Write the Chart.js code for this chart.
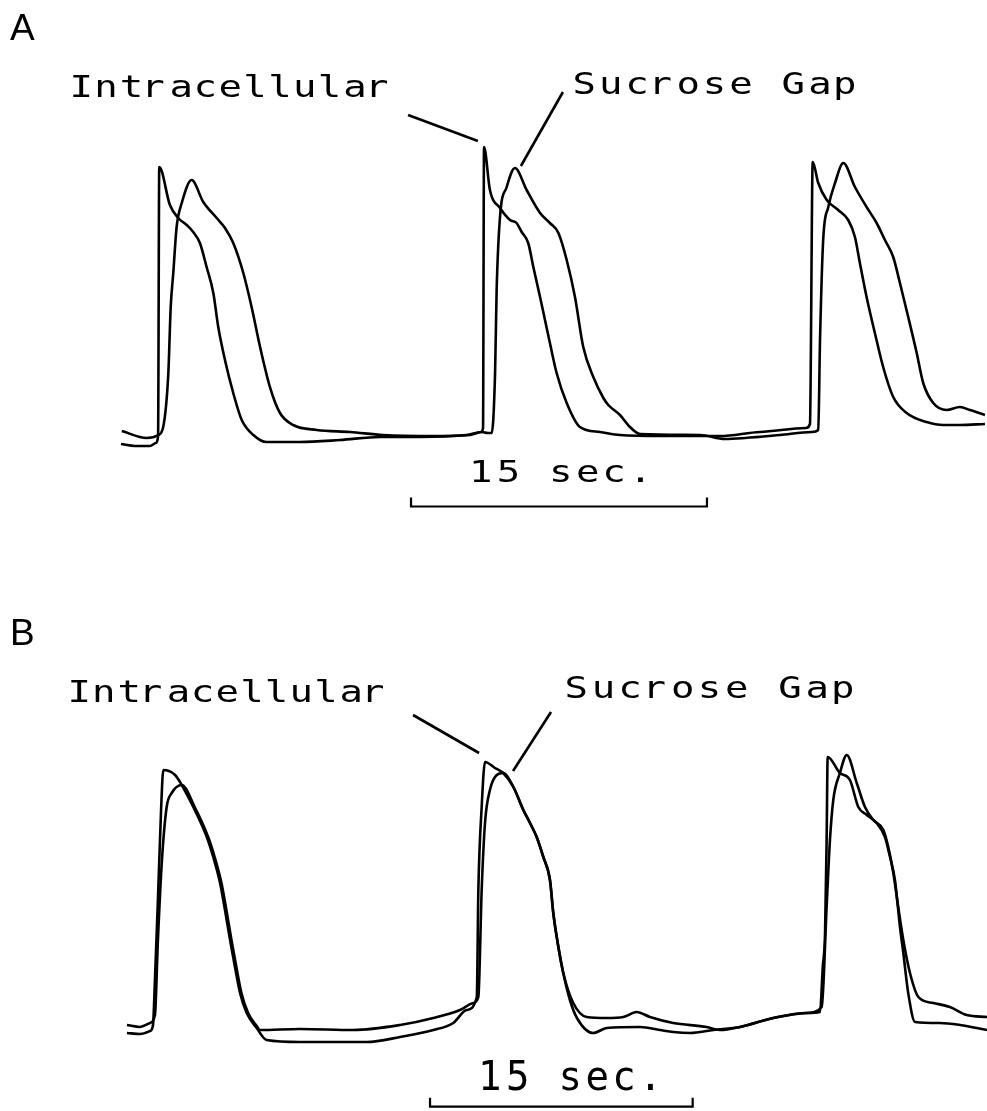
<!DOCTYPE html>
<html>
<head>
  <title>Intracellular and Sucrose Gap Recordings</title>
  <script src="https://cdn.jsdelivr.net/npm/chart.js"></script>
  <style>
    body { margin: 0; background: #fff; }
    canvas { position: absolute; left: 0; }
  </style>
</head>
<body>
  <canvas id="panelA" width="987" height="555" style="top:0px"></canvas>
  <canvas id="panelB" width="987" height="556" style="top:555px"></canvas>

  <script>
    // Panel A - time (s) and amplitude (arbitrary units)
    const tA_intra = [0.05, 0.76, 1.52, 1.82, 1.93, 1.99, 2.53, 2.95, 3.38, 3.71, 4.05, 4.39, 4.73, 4.98, 5.32, 5.74, 6.17, 6.76, 7.43, 9.12,
      11.15, 13.18, 15.20, 17.74, 18.30, 18.40, 18.45, 18.75, 19.26, 19.77, 20.10, 20.36, 20.69, 20.95, 21.29, 21.54, 21.79, 22.13, 22.64, 23.31,
      24.33, 25.34, 27.37, 30.41, 32.44, 34.77, 34.97, 35.11, 35.39, 35.82, 36.40, 36.91, 37.25, 37.50, 37.84, 38.26, 38.68, 39.19, 39.87, 40.88,
      41.72, 42.57, 43.84];
    const vA_intra = [6, 4, 4, 7, 14, 283, 245, 232, 225, 218, 207, 183, 157, 123, 90, 57, 30, 15, 8, 8,
      10, 13, 13, 15, 18, 22, 303, 260, 242, 230, 227, 218, 207, 183, 153, 130, 107, 77, 47, 23,
      18, 15, 14, 14, 18, 22, 26, 288, 267, 250, 240, 230, 213, 187, 153, 117, 83, 53, 37, 28,
      25, 25, 26];

    const tA_suc = [0.09, 1.35, 1.94, 2.19, 2.45, 2.57, 2.70, 2.87, 3.13, 3.63, 4.22, 4.90, 5.32, 5.74, 6.25, 6.67, 7.10, 7.60, 8.11, 8.78,
      9.97, 11.66, 13.34, 15.88, 17.57, 18.33, 18.65, 18.84, 19.01, 19.09, 19.26, 19.60, 20.02, 20.61, 21.29, 21.79, 22.22, 22.64, 23.06, 23.48,
      23.99, 24.50, 24.75, 25.34, 25.85, 26.36, 29.40, 30.66, 31.68, 33.45, 35.07, 35.39, 35.48, 35.64, 35.90, 36.24, 36.66, 37.25, 37.84, 38.35,
      38.77, 39.19, 39.53, 39.95, 40.38, 40.71, 41.22, 41.90, 42.57, 43.08, 43.84];
    const vA_suc = [19, 12, 15, 23, 77, 143, 177, 223, 247, 270, 248, 232, 222, 207, 177, 143, 103, 63, 37, 25,
      20, 18, 15, 14, 15, 18, 17, 17, 77, 160, 233, 263, 282, 260, 237, 227, 217, 190, 153, 103,
      73, 52, 45, 35, 23, 16, 15, 11, 12, 15, 18, 20, 110, 210, 243, 267, 287, 263, 243, 227,
      210, 193, 167, 133, 97, 67, 47, 40, 43, 40, 35];

    // Panel B
    const tB_intra = [0.11, 0.86, 1.43, 1.60, 1.71, 1.88, 2.06, 2.19, 2.86, 3.24, 3.90, 4.67, 5.04, 5.43, 5.71, 6.00, 6.28, 6.57, 6.95, 7.52,
      8.09, 9.99, 13.80, 15.71, 17.61, 18.75, 19.51, 20.09, 20.18, 20.37, 20.56, 21.13, 21.60, 22.18, 22.75, 23.13, 23.51, 23.89, 24.27, 24.46,
      24.75, 25.03, 25.41, 25.81, 26.74, 27.51, 29.41, 30.55, 31.31, 32.27, 33.60, 35.12, 37.02, 38.93, 39.69, 39.85, 39.98, 40.07, 40.13, 40.83,
      41.40, 41.88, 42.36, 42.93, 43.40, 43.69, 43.97, 44.26, 44.45, 44.73, 45.12, 46.54, 47.69, 49.23];
    const vB_intra = [12, 11, 14, 20, 65, 145, 235, 275, 270, 260, 238, 208, 188, 162, 135, 105, 78, 52, 32, 17,
      5, 3, 3, 8, 15, 22, 35, 48, 155, 238, 283, 277, 272, 258, 235, 222, 208, 188, 165, 132,
      98, 72, 45, 27, 12, 17, 18, 15, 13, 12, 15, 18, 27, 32, 33, 78, 112, 205, 288, 272,
      265, 238, 230, 222, 208, 188, 165, 118, 92, 52, 23, 22, 20, 15];

    const tB_suc = [0.11, 0.86, 1.43, 1.71, 1.88, 2.11, 2.38, 2.67, 3.24, 3.98, 4.75, 5.12, 5.51, 5.79, 6.08, 6.36, 6.65, 7.03, 7.52, 7.71,
      9.99, 13.04, 15.71, 17.61, 19.13, 19.89, 20.18, 20.37, 20.56, 20.84, 21.23, 21.60, 22.18, 22.75, 23.13, 23.51, 23.89, 24.27, 24.46, 24.75,
      25.03, 25.60, 26.37, 27.51, 28.46, 29.22, 29.98, 31.31, 33.22, 33.98, 35.12, 37.02, 38.93, 39.79, 40.07, 40.26, 40.45, 40.83, 41.22, 41.79,
      42.26, 42.73, 43.31, 43.59, 43.88, 44.16, 44.45, 44.83, 45.31, 46.16, 47.11, 48.07, 49.23];
    const vB_suc = [20, 18, 22, 30, 105, 185, 238, 252, 260, 238, 208, 188, 162, 135, 105, 78, 52, 32, 19, 15,
      16, 15, 20, 27, 35, 42, 48, 155, 222, 255, 270, 272, 258, 235, 222, 208, 188, 165, 132, 98,
      72, 42, 28, 27, 28, 33, 28, 22, 18, 15, 18, 27, 32, 38, 138, 205, 245, 272, 290, 262,
      238, 225, 215, 198, 172, 138, 105, 72, 48, 42, 38, 30, 28];

    // 15 sec calibration bars (start, end in s)
    const barA = [14.75, 29.75];
    const barB = [17.42, 32.42];

    // label leader lines [t, value] pairs
    const leaderA_intra = [[14.60, 335], [18.14, 309]];
    const leaderA_suc = [[22.45, 358], [20.32, 284]];
    const leaderB_intra = [[16.45, 330], [20.22, 292]];
    const leaderB_suc = [[24.33, 333], [22.16, 274]];

    const traceFont = '30px "DejaVu Sans Mono", "Liberation Mono", monospace';
    const letterFont = '37px "Liberation Sans", Arial, sans-serif';

    function pairs(ts, vs) {
      return ts.map((t, i) => ({ x: t, y: vs[i] }));
    }

    function bracket(bar, yBar, yTick) {
      return [
        { x: bar[0], y: yTick }, { x: bar[0], y: yBar },
        { x: bar[1], y: yBar }, { x: bar[1], y: yTick }
      ];
    }

    function lineSet(data, width, smooth) {
      return {
        data: data,
        borderColor: '#000',
        borderWidth: width,
        pointRadius: 0,
        fill: false,
        clip: false,
        tension: 0,
        cubicInterpolationMode: smooth ? 'monotone' : 'default'
      };
    }

    // draws text so its ink runs from left to right, each glyph centred in an even cell
    function drawSpaced(ctx, t) {
      ctx.save();
      ctx.font = t.font;
      ctx.fillStyle = '#000';
      ctx.textBaseline = 'alphabetic';
      const sx = t.sx || 1;
      const chars = [...t.text];
      const ms = chars.map(c => ctx.measureText(c));
      const inkW = m => m.actualBoundingBoxRight + m.actualBoundingBoxLeft;
      const inkMid = m => (m.actualBoundingBoxRight - m.actualBoundingBoxLeft) / 2;
      const n = chars.length;
      const c0 = t.left + inkW(ms[0]) * sx / 2;
      const cN = t.right - inkW(ms[n - 1]) * sx / 2;
      const step = n > 1 ? (cN - c0) / (n - 1) : 0;
      chars.forEach((c, i) => {
        if (c === ' ') return;
        ctx.save();
        ctx.translate(c0 + i * step, t.base);
        ctx.scale(sx, t.sy || 1);
        ctx.fillText(c, -inkMid(ms[i]), 0);
        ctx.restore();
      });
      ctx.restore();
    }

    function makePanel(id, cfg) {
      const textPlugin = {
        id: 'panelText',
        afterDraw(chart) {
          cfg.texts.forEach(t => drawSpaced(chart.ctx, t));
        }
      };
      return new Chart(document.getElementById(id), {
        type: 'line',
        data: {
          datasets: [
            lineSet(pairs(cfg.intra[0], cfg.intra[1]), 2.6, true),
            lineSet(pairs(cfg.suc[0], cfg.suc[1]), 2.6, true),
            lineSet(bracket(cfg.bar, cfg.barY, cfg.barY + 9), 2.2, false),
            lineSet(cfg.leaders[0].map(p => ({ x: p[0], y: p[1] })), 2.6, false),
            lineSet(cfg.leaders[1].map(p => ({ x: p[0], y: p[1] })), 2.6, false)
          ]
        },
        options: {
          responsive: false,
          animation: false,
          devicePixelRatio: 1,
          layout: { autoPadding: false, padding: { left: cfg.padLeft, right: 0, top: 0, bottom: 0 } },
          plugins: { legend: { display: false }, tooltip: { enabled: false } },
          events: [],
          scales: {
            x: { type: 'linear', display: false, min: 0, max: cfg.xMax },
            y: { type: 'linear', display: false, min: cfg.yMin, max: cfg.yMax }
          }
        },
        plugins: [textPlugin]
      });
    }

    makePanel('panelA', {
      intra: [tA_intra, vA_intra],
      suc: [tA_suc, vA_suc],
      bar: barA, barY: -56.5,
      leaders: [leaderA_intra, leaderA_suc],
      padLeft: 120, xMax: 867 / 19.73,
      yMin: -105, yMax: 450,
      texts: [
        { text: 'A', font: letterFont, left: 10, right: 30, base: 40 },
        { text: 'Intracellular', font: traceFont, left: 72, right: 387, base: 97, sx: 1.3 },
        { text: 'Sucrose Gap', font: traceFont, left: 575, right: 855, base: 94, sx: 1.3 },
        { text: '15 sec.', font: traceFont, left: 473, right: 643, base: 482, sx: 1.3 }
      ]
    });

    makePanel('panelB', {
      intra: [tB_intra, vB_intra],
      suc: [tB_suc, vB_suc],
      bar: barB, barY: -61.7,
      leaders: [leaderB_intra, leaderB_suc],
      padLeft: 125, xMax: 862 / 17.51,
      yMin: -66, yMax: 490,
      texts: [
        { text: 'B', font: letterFont, left: 13, right: 30, base: 90 },
        { text: 'Intracellular', font: traceFont, left: 70, right: 383, base: 147, sx: 1.3 },
        { text: 'Sucrose Gap', font: traceFont, left: 567, right: 853, base: 143, sx: 1.3 },
        { text: '15 sec.', font: traceFont, left: 482, right: 653, base: 535, sx: 1.3, sy: 1.35 }
      ]
    });
  </script>
</body>
</html>
